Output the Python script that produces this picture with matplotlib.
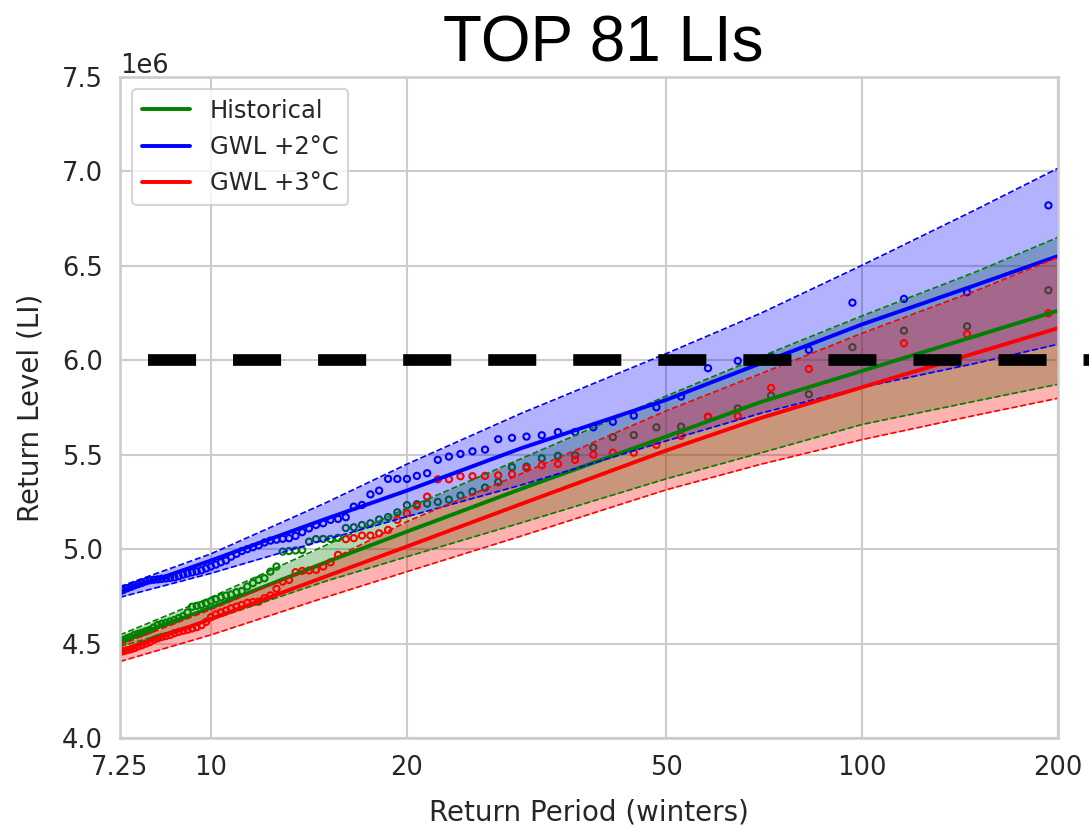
import matplotlib
matplotlib.use("Agg")
import matplotlib.pyplot as plt
from matplotlib.ticker import NullLocator
import seaborn as sns

# ---------------- data (values in units of 1e6) ----------------
n_plus_1 = 580                      # plotting position T = n_plus_1 / rank
ranks = list(range(3, 81))          # ranks visible inside the x-range

hist_pts = [6.371, 6.18, 6.157, 6.069, 5.82, 5.813, 5.745, 5.70, 5.649, 5.645,
            5.604, 5.593, 5.538, 5.497, 5.494, 5.481, 5.437, 5.434, 5.355, 5.326,
            5.305, 5.284, 5.262, 5.25, 5.241, 5.238, 5.233, 5.195, 5.17, 5.157,
            5.137, 5.128, 5.116, 5.112, 5.06, 5.054, 5.054, 5.053, 5.04, 4.995,
            4.993, 4.99, 4.987, 4.908, 4.881, 4.846, 4.837, 4.82, 4.802, 4.778,
            4.772, 4.76, 4.754, 4.745, 4.735, 4.725, 4.713, 4.705, 4.70, 4.695,
            4.665, 4.645, 4.635, 4.625, 4.617, 4.61, 4.605, 4.598, 4.585, 4.572,
            4.565, 4.558, 4.552, 4.546, 4.535, 4.528, 4.52, 4.508]

gwl2_pts = [6.82, 6.36, 6.325, 6.305, 6.055, 6.02, 5.997, 5.958, 5.808, 5.751,
            5.707, 5.674, 5.645, 5.62, 5.62, 5.603, 5.596, 5.589, 5.582, 5.527,
            5.518, 5.504, 5.49, 5.473, 5.402, 5.388, 5.372, 5.372, 5.372, 5.31,
            5.29, 5.234, 5.225, 5.169, 5.16, 5.155, 5.137, 5.128, 5.11, 5.09,
            5.07, 5.058, 5.055, 5.05, 5.045, 5.035, 5.02, 5.01, 5.0, 4.99,
            4.975, 4.96, 4.94, 4.93, 4.918, 4.908, 4.898, 4.888, 4.882, 4.877,
            4.871, 4.865, 4.857, 4.85, 4.848, 4.845, 4.843, 4.84, 4.838, 4.835,
            4.83, 4.822, 4.815, 4.808, 4.80, 4.793, 4.785, 4.775]

gwl3_pts = [6.249, 6.138, 6.09, 6.0, 5.954, 5.854, 5.705, 5.702, 5.60, 5.552,
            5.511, 5.511, 5.50, 5.473, 5.451, 5.444, 5.429, 5.397, 5.391, 5.388,
            5.386, 5.386, 5.37, 5.37, 5.278, 5.229, 5.19, 5.155, 5.102, 5.084,
            5.072, 5.072, 5.058, 5.053, 4.97, 4.93, 4.908, 4.89, 4.887, 4.885,
            4.878, 4.837, 4.828, 4.79, 4.755, 4.74, 4.722, 4.72, 4.716, 4.705,
            4.696, 4.687, 4.675, 4.665, 4.655, 4.64, 4.615, 4.597, 4.587, 4.58,
            4.573, 4.568, 4.562, 4.555, 4.546, 4.54, 4.535, 4.528, 4.52, 4.508,
            4.50, 4.492, 4.485, 4.476, 4.47, 4.465, 4.46, 4.455]

fit_T = [7.25, 10, 15, 20, 30, 50, 70, 100, 150, 200]
hist_mid = [4.514, 4.69, 4.93, 5.093, 5.32, 5.596, 5.78, 5.944, 6.13, 6.263]
hist_lo = [4.484, 4.625, 4.83, 4.96, 5.14, 5.372, 5.51, 5.66, 5.785, 5.873]
hist_hi = [4.546, 4.745, 5.02, 5.217, 5.48, 5.81, 6.02, 6.235, 6.47, 6.651]
gwl2_mid = [4.772, 4.94, 5.16, 5.31, 5.535, 5.79, 5.985, 6.19, 6.40, 6.552]
gwl2_lo = [4.745, 4.872, 5.05, 5.172, 5.34, 5.573, 5.72, 5.857, 5.985, 6.085]
gwl2_hi = [4.802, 4.975, 5.245, 5.45, 5.72, 6.035, 6.25, 6.503, 6.80, 7.017]
gwl3_mid = [4.458, 4.63, 4.855, 5.014, 5.24, 5.522, 5.695, 5.857, 6.04, 6.17]
gwl3_lo = [4.405, 4.546, 4.745, 4.881, 5.07, 5.314, 5.45, 5.58, 5.71, 5.799]
gwl3_hi = [4.493, 4.68, 4.93, 5.146, 5.40, 5.732, 5.93, 6.143, 6.37, 6.545]

threshold = 6.0
threshold_T = [8, 260]

labels = ["Historical", "GWL +2°C", "GWL +3°C"]
colors = ["green", "blue", "red"]
xtick_vals = [7.25, 10, 20, 50, 100, 200]
xtick_labels = ["7.25", "10", "20", "50", "100", "200"]

# ---------------- style ----------------
sns.set_theme(style="whitegrid", context="talk")
plt.rcParams["font.family"] = ["DejaVu Sans"]

fig = plt.figure(figsize=(10.89, 8.25), dpi=100)
ax = fig.add_axes([120 / 1089, 1 - 738 / 825, (1058 - 120) / 1089, (738 - 77) / 825])

ret_periods = [n_plus_1 / r for r in ranks]
E = 1e6

series = [
    (hist_pts, hist_mid, hist_lo, hist_hi),
    (gwl2_pts, gwl2_mid, gwl2_lo, gwl2_hi),
    (gwl3_pts, gwl3_mid, gwl3_lo, gwl3_hi),
]

for (pts, mid, lo, hi), lab, col in zip(series, labels, colors):
    n = min(len(pts), len(ret_periods))
    ax.scatter(ret_periods[:n], [v * E for v in pts[:n]], s=20,
               facecolors="none", edgecolors=col, linewidths=1.5)
    ax.fill_between(fit_T, [v * E for v in lo], [v * E for v in hi],
                    color=col, alpha=0.3, linewidth=0)
    ax.plot(fit_T, [v * E for v in lo], color=col, lw=1.2, ls="--")
    ax.plot(fit_T, [v * E for v in hi], color=col, lw=1.2, ls="--")
    ax.plot(fit_T, [v * E for v in mid], color=col, lw=2.8, label=lab)

ax.plot(threshold_T, [threshold * E] * 2, color="black", lw=8.4,
        dashes=(4.12, 3.17), clip_on=False, zorder=5)

ax.set_xscale("log")
ax.set_xlim(7.25, 200)
ax.set_ylim(4.0e6, 7.5e6)
ax.set_xticks(xtick_vals)
ax.set_xticklabels(xtick_labels)
ax.xaxis.set_minor_locator(NullLocator())
ax.set_yticks([4.0e6 + 0.5e6 * i for i in range(8)])
ax.tick_params(axis="both", labelsize=18.5)
ax.yaxis.get_offset_text().set_fontsize(18.5)

ax.set_xlabel("Return Period (winters)", fontsize=20, labelpad=12)
ax.set_ylabel("Return Level (LI)", fontsize=20, labelpad=12)
ax.legend(loc="upper left", fontsize=17.5)

fig.text(603 / 1089, 1 - 62 / 825, "TOP 81 LIs", ha="center", va="baseline",
         fontsize=46, family="Liberation Sans", color="black")

fig.savefig("out.png", dpi=100)
